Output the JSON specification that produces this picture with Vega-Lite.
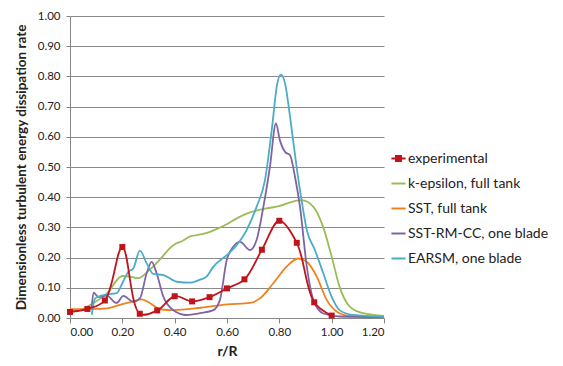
{
  "$schema": "https://vega.github.io/schema/vega-lite/v6.json",
  "autosize": "none",
  "width": 314,
  "height": 302,
  "padding": {"left": 70, "top": 16, "right": 179, "bottom": 48},
  "background": "white",
  "config": {
    "view": {"stroke": null},
    "font": "Lato",
    "axis": {"labelFont": "Lato", "titleFont": "Lato", "labelColor": "#222", "titleColor": "#222", "labelFontSize": 11.5, "titleFontSize": 13.5, "titleFontWeight": "bold"}
  },
  "datasets": {
    "exp": [
      {"s": "experimental", "x": 0.0, "y": 0.02},
      {"s": "experimental", "x": 0.0667, "y": 0.03},
      {"s": "experimental", "x": 0.1333, "y": 0.058},
      {"s": "experimental", "x": 0.2, "y": 0.235},
      {"s": "experimental", "x": 0.2667, "y": 0.014},
      {"s": "experimental", "x": 0.3333, "y": 0.025},
      {"s": "experimental", "x": 0.4, "y": 0.072},
      {"s": "experimental", "x": 0.4667, "y": 0.055},
      {"s": "experimental", "x": 0.5333, "y": 0.069},
      {"s": "experimental", "x": 0.6, "y": 0.098},
      {"s": "experimental", "x": 0.6667, "y": 0.128},
      {"s": "experimental", "x": 0.7333, "y": 0.226},
      {"s": "experimental", "x": 0.8, "y": 0.322},
      {"s": "experimental", "x": 0.8667, "y": 0.249},
      {"s": "experimental", "x": 0.9333, "y": 0.052},
      {"s": "experimental", "x": 1.0, "y": 0.008}
    ],
    "models": [
      {"s": "k-epsilon, full tank", "x": 0.0, "y": 0.02},
      {"s": "k-epsilon, full tank", "x": 0.05, "y": 0.03},
      {"s": "k-epsilon, full tank", "x": 0.09, "y": 0.05},
      {"s": "k-epsilon, full tank", "x": 0.14, "y": 0.08},
      {"s": "k-epsilon, full tank", "x": 0.2, "y": 0.139},
      {"s": "k-epsilon, full tank", "x": 0.23, "y": 0.137},
      {"s": "k-epsilon, full tank", "x": 0.26, "y": 0.132},
      {"s": "k-epsilon, full tank", "x": 0.305, "y": 0.16},
      {"s": "k-epsilon, full tank", "x": 0.35, "y": 0.2},
      {"s": "k-epsilon, full tank", "x": 0.38, "y": 0.23},
      {"s": "k-epsilon, full tank", "x": 0.405, "y": 0.247},
      {"s": "k-epsilon, full tank", "x": 0.43, "y": 0.255},
      {"s": "k-epsilon, full tank", "x": 0.459, "y": 0.27},
      {"s": "k-epsilon, full tank", "x": 0.5, "y": 0.277},
      {"s": "k-epsilon, full tank", "x": 0.535, "y": 0.285},
      {"s": "k-epsilon, full tank", "x": 0.567, "y": 0.297},
      {"s": "k-epsilon, full tank", "x": 0.6, "y": 0.311},
      {"s": "k-epsilon, full tank", "x": 0.637, "y": 0.33},
      {"s": "k-epsilon, full tank", "x": 0.688, "y": 0.35},
      {"s": "k-epsilon, full tank", "x": 0.752, "y": 0.363},
      {"s": "k-epsilon, full tank", "x": 0.802, "y": 0.371},
      {"s": "k-epsilon, full tank", "x": 0.841, "y": 0.383},
      {"s": "k-epsilon, full tank", "x": 0.885, "y": 0.39},
      {"s": "k-epsilon, full tank", "x": 0.93, "y": 0.368},
      {"s": "k-epsilon, full tank", "x": 0.968, "y": 0.3},
      {"s": "k-epsilon, full tank", "x": 1.0, "y": 0.203},
      {"s": "k-epsilon, full tank", "x": 1.03, "y": 0.104},
      {"s": "k-epsilon, full tank", "x": 1.07, "y": 0.037},
      {"s": "k-epsilon, full tank", "x": 1.12, "y": 0.016},
      {"s": "k-epsilon, full tank", "x": 1.2, "y": 0.007},

      {"s": "SST, full tank", "x": 0.0, "y": 0.029},
      {"s": "SST, full tank", "x": 0.1, "y": 0.03},
      {"s": "SST, full tank", "x": 0.14, "y": 0.032},
      {"s": "SST, full tank", "x": 0.2, "y": 0.046},
      {"s": "SST, full tank", "x": 0.24, "y": 0.054},
      {"s": "SST, full tank", "x": 0.274, "y": 0.062},
      {"s": "SST, full tank", "x": 0.306, "y": 0.049},
      {"s": "SST, full tank", "x": 0.344, "y": 0.029},
      {"s": "SST, full tank", "x": 0.395, "y": 0.026},
      {"s": "SST, full tank", "x": 0.5, "y": 0.034},
      {"s": "SST, full tank", "x": 0.6, "y": 0.045},
      {"s": "SST, full tank", "x": 0.688, "y": 0.05},
      {"s": "SST, full tank", "x": 0.726, "y": 0.065},
      {"s": "SST, full tank", "x": 0.777, "y": 0.115},
      {"s": "SST, full tank", "x": 0.828, "y": 0.17},
      {"s": "SST, full tank", "x": 0.872, "y": 0.197},
      {"s": "SST, full tank", "x": 0.905, "y": 0.186},
      {"s": "SST, full tank", "x": 0.943, "y": 0.137},
      {"s": "SST, full tank", "x": 0.981, "y": 0.06},
      {"s": "SST, full tank", "x": 1.02, "y": 0.021},
      {"s": "SST, full tank", "x": 1.07, "y": 0.007},
      {"s": "SST, full tank", "x": 1.2, "y": 0.004},

      {"s": "SST-RM-CC, one blade", "x": 0.083, "y": 0.035},
      {"s": "SST-RM-CC, one blade", "x": 0.09, "y": 0.084},
      {"s": "SST-RM-CC, one blade", "x": 0.108, "y": 0.07},
      {"s": "SST-RM-CC, one blade", "x": 0.14, "y": 0.074},
      {"s": "SST-RM-CC, one blade", "x": 0.178, "y": 0.05},
      {"s": "SST-RM-CC, one blade", "x": 0.204, "y": 0.073},
      {"s": "SST-RM-CC, one blade", "x": 0.242, "y": 0.054},
      {"s": "SST-RM-CC, one blade", "x": 0.267, "y": 0.065},
      {"s": "SST-RM-CC, one blade", "x": 0.293, "y": 0.148},
      {"s": "SST-RM-CC, one blade", "x": 0.312, "y": 0.186},
      {"s": "SST-RM-CC, one blade", "x": 0.331, "y": 0.148},
      {"s": "SST-RM-CC, one blade", "x": 0.357, "y": 0.07},
      {"s": "SST-RM-CC, one blade", "x": 0.395, "y": 0.026},
      {"s": "SST-RM-CC, one blade", "x": 0.446, "y": 0.01},
      {"s": "SST-RM-CC, one blade", "x": 0.497, "y": 0.016},
      {"s": "SST-RM-CC, one blade", "x": 0.548, "y": 0.026},
      {"s": "SST-RM-CC, one blade", "x": 0.573, "y": 0.06},
      {"s": "SST-RM-CC, one blade", "x": 0.599, "y": 0.192},
      {"s": "SST-RM-CC, one blade", "x": 0.624, "y": 0.236},
      {"s": "SST-RM-CC, one blade", "x": 0.65, "y": 0.252},
      {"s": "SST-RM-CC, one blade", "x": 0.688, "y": 0.225},
      {"s": "SST-RM-CC, one blade", "x": 0.713, "y": 0.258},
      {"s": "SST-RM-CC, one blade", "x": 0.739, "y": 0.368},
      {"s": "SST-RM-CC, one blade", "x": 0.764, "y": 0.5},
      {"s": "SST-RM-CC, one blade", "x": 0.787, "y": 0.644},
      {"s": "SST-RM-CC, one blade", "x": 0.802, "y": 0.589},
      {"s": "SST-RM-CC, one blade", "x": 0.822, "y": 0.55},
      {"s": "SST-RM-CC, one blade", "x": 0.841, "y": 0.539},
      {"s": "SST-RM-CC, one blade", "x": 0.86, "y": 0.467},
      {"s": "SST-RM-CC, one blade", "x": 0.879, "y": 0.368},
      {"s": "SST-RM-CC, one blade", "x": 0.905, "y": 0.17},
      {"s": "SST-RM-CC, one blade", "x": 0.93, "y": 0.06},
      {"s": "SST-RM-CC, one blade", "x": 0.968, "y": 0.015},
      {"s": "SST-RM-CC, one blade", "x": 1.03, "y": 0.005},
      {"s": "SST-RM-CC, one blade", "x": 1.2, "y": 0.003},

      {"s": "EARSM, one blade", "x": 0.083, "y": 0.01},
      {"s": "EARSM, one blade", "x": 0.096, "y": 0.065},
      {"s": "EARSM, one blade", "x": 0.127, "y": 0.076},
      {"s": "EARSM, one blade", "x": 0.178, "y": 0.082},
      {"s": "EARSM, one blade", "x": 0.2, "y": 0.115},
      {"s": "EARSM, one blade", "x": 0.223, "y": 0.153},
      {"s": "EARSM, one blade", "x": 0.242, "y": 0.164},
      {"s": "EARSM, one blade", "x": 0.267, "y": 0.223},
      {"s": "EARSM, one blade", "x": 0.293, "y": 0.181},
      {"s": "EARSM, one blade", "x": 0.318, "y": 0.146},
      {"s": "EARSM, one blade", "x": 0.357, "y": 0.142},
      {"s": "EARSM, one blade", "x": 0.408, "y": 0.12},
      {"s": "EARSM, one blade", "x": 0.459, "y": 0.117},
      {"s": "EARSM, one blade", "x": 0.497, "y": 0.127},
      {"s": "EARSM, one blade", "x": 0.522, "y": 0.137},
      {"s": "EARSM, one blade", "x": 0.548, "y": 0.17},
      {"s": "EARSM, one blade", "x": 0.599, "y": 0.208},
      {"s": "EARSM, one blade", "x": 0.637, "y": 0.241},
      {"s": "EARSM, one blade", "x": 0.675, "y": 0.291},
      {"s": "EARSM, one blade", "x": 0.713, "y": 0.368},
      {"s": "EARSM, one blade", "x": 0.745, "y": 0.456},
      {"s": "EARSM, one blade", "x": 0.771, "y": 0.622},
      {"s": "EARSM, one blade", "x": 0.792, "y": 0.776},
      {"s": "EARSM, one blade", "x": 0.806, "y": 0.806},
      {"s": "EARSM, one blade", "x": 0.822, "y": 0.776},
      {"s": "EARSM, one blade", "x": 0.841, "y": 0.666},
      {"s": "EARSM, one blade", "x": 0.866, "y": 0.5},
      {"s": "EARSM, one blade", "x": 0.885, "y": 0.39},
      {"s": "EARSM, one blade", "x": 0.905, "y": 0.291},
      {"s": "EARSM, one blade", "x": 0.936, "y": 0.225},
      {"s": "EARSM, one blade", "x": 0.968, "y": 0.148},
      {"s": "EARSM, one blade", "x": 1.0, "y": 0.07},
      {"s": "EARSM, one blade", "x": 1.03, "y": 0.026},
      {"s": "EARSM, one blade", "x": 1.08, "y": 0.01},
      {"s": "EARSM, one blade", "x": 1.2, "y": 0.004}
    ]
  },
  "encoding": {
    "x": {"field": "x", "type": "quantitative",
      "scale": {"domain": [0, 1.2], "nice": false, "zero": false},
      "axis": {"title": "r/R", "format": ".2f", "values": [0, 0.2, 0.4, 0.6, 0.8, 1.0, 1.2], "grid": false, "domainColor": "#868686", "tickColor": "#868686", "tickSize": 5, "labelPadding": 3, "titlePadding": 7, "titleFontSize": 14}},
    "y": {"field": "y", "type": "quantitative",
      "scale": {"domain": [0, 1.0], "nice": false},
      "axis": {"title": "Dimensionless turbulent  energy dissipation rate", "format": ".2f", "values": [0, 0.1, 0.2, 0.3, 0.4, 0.5, 0.6, 0.7, 0.8, 0.9, 1.0], "grid": true, "gridColor": "#8a8a8a", "gridOpacity": 1, "domainColor": "#868686", "ticks": true, "tickColor": "#868686", "tickSize": 4, "labelPadding": 6, "titlePadding": 9}},
    "color": {"field": "s", "type": "nominal",
      "scale": {"domain": ["experimental", "k-epsilon, full tank", "SST, full tank", "SST-RM-CC, one blade", "EARSM, one blade"],
        "range": ["#C0141C", "#9BBB59", "#F0821E", "#8064A2", "#4BACC6"]},
      "legend": {"title": null, "orient": "none", "legendX": 320, "legendY": 134, "labelFont": "Lato", "labelFontSize": 14, "labelColor": "#222", "symbolSize": 200, "symbolStrokeWidth": 2, "rowPadding": 9, "labelOffset": 1,
        "encode": {"symbols": {"update": {
          "shape": {"signal": "datum.value === 'experimental' ? 'M-1,0H1M-0.35,-0.35H0.35V0.35H-0.35Z' : 'M-1,0H1'"},
          "fill": {"signal": "scale('color', datum.value)"},
          "fillOpacity": {"value": 1}
        }}}}
    }
  },
  "layer": [
    {"data": {"name": "models"}, "mark": {"type": "line", "interpolate": "monotone", "strokeWidth": 1.8}},
    {"data": {"name": "exp"}, "mark": {"type": "line", "interpolate": "catmull-rom", "strokeWidth": 1.8}},
    {"data": {"name": "exp"}, "mark": {"type": "square", "size": 36, "opacity": 1, "filled": true}}
  ]
}
